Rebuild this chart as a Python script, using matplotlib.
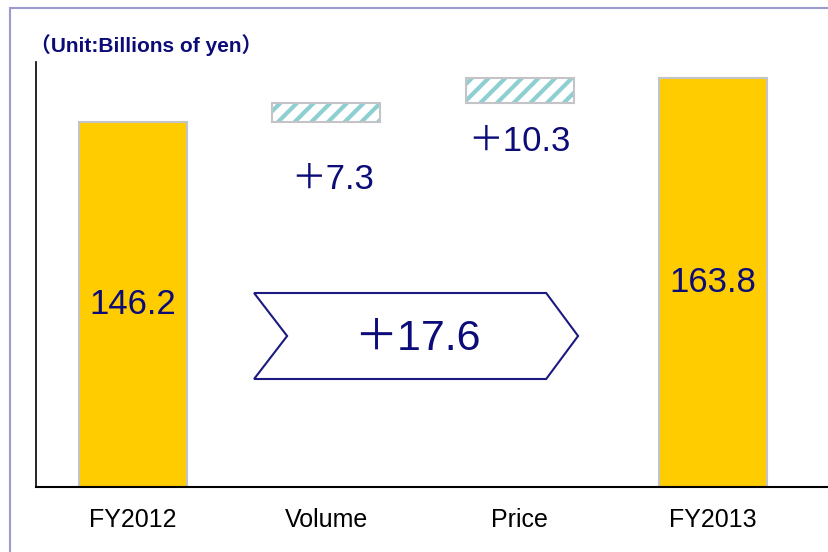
import matplotlib
matplotlib.use("Agg")
import matplotlib.pyplot as plt
from matplotlib.patches import Polygon, Rectangle

categories = ["FY2012", "Volume", "Price", "FY2013"]
start_value = 146.2
end_value = 163.8
deltas = [7.3, 10.3]
total_delta = 17.6

navy = "#0c0c78"
yellow = "#ffcc00"
hatch_col = "#8ecfd2"
edge_grey = "#c4c4c8"

plt.rcParams["hatch.linewidth"] = 3.0
fam = ["Liberation Sans", "Noto Sans CJK JP", "DejaVu Sans"]

fig = plt.figure(figsize=(8.29, 5.52), dpi=100)
# frame around the chart area (cut off at right/bottom like the source)
fig.patches.append(Rectangle((10 / 829, -0.1), 1.2, 1 - 8 / 552 + 0.1,
                             transform=fig.transFigure, fill=False,
                             edgecolor="#9a9ad0", linewidth=1.5))

ax = fig.add_axes([36 / 829, 65 / 552, 1 - 36 / 829, 425 / 552])
x = list(range(len(categories)))
w = 0.56

# totals
ax.bar([x[0], x[3]], [start_value, end_value], width=w, color=yellow,
       edgecolor=edge_grey, linewidth=1.5)

# floating increments
bottoms = [start_value, start_value + deltas[0]]
ax.bar([x[1], x[2]], deltas, bottom=bottoms, width=w, color="white",
       edgecolor=hatch_col, linewidth=0, hatch="//")
ax.bar([x[1], x[2]], deltas, bottom=bottoms, width=w, fill=False,
       edgecolor=edge_grey, linewidth=1.5)

ax.set_xlim(-0.502, 3.6)
ax.set_ylim(0, 170)

ax.text(x[0], start_value / 2, f"{start_value:.1f}", ha="center", va="center",
        fontsize=25, color=navy, family=fam)
ax.text(x[3], end_value / 2, f"{end_value:.1f}", ha="center", va="center",
        fontsize=25, color=navy, family=fam)
ax.text(x[1] + 0.035, start_value - 23, f"＋{deltas[0]}", ha="center", va="center",
        fontsize=25, color=navy, family=fam)
ax.text(x[2], start_value + deltas[0] - 15.3, f"＋{deltas[1]}", ha="center",
        va="center", fontsize=25, color=navy, family=fam)

# chevron arrow with total change
chev = Polygon([(0.626, 77.6), (2.137, 77.6), (2.302, 60.4), (2.137, 43.2),
                (0.626, 43.2), (0.797, 60.4)], closed=True, facecolor="white",
               edgecolor="#1a1a80", linewidth=1.5)
ax.add_patch(chev)
ax.text(1.47, 59.4, f"＋{total_delta}", ha="center", va="center", fontsize=31,
        color=navy, family=fam)

ax.set_xticks(x, categories)
ax.tick_params(axis="x", length=0, pad=15, labelsize=18)
for lab in ax.get_xticklabels():
    lab.set_family(fam)
ax.set_yticks([])
ax.spines["top"].set_visible(False)
ax.spines["right"].set_visible(False)
ax.spines["left"].set_linewidth(1.2)
ax.spines["bottom"].set_linewidth(1.5)

fig.text(30 / 829, 1 - 45 / 552, "（Unit:Billions of yen）", ha="left",
         va="center", fontsize=15, fontweight="bold", color=navy, family=fam)

fig.savefig("out.png", dpi=100)
